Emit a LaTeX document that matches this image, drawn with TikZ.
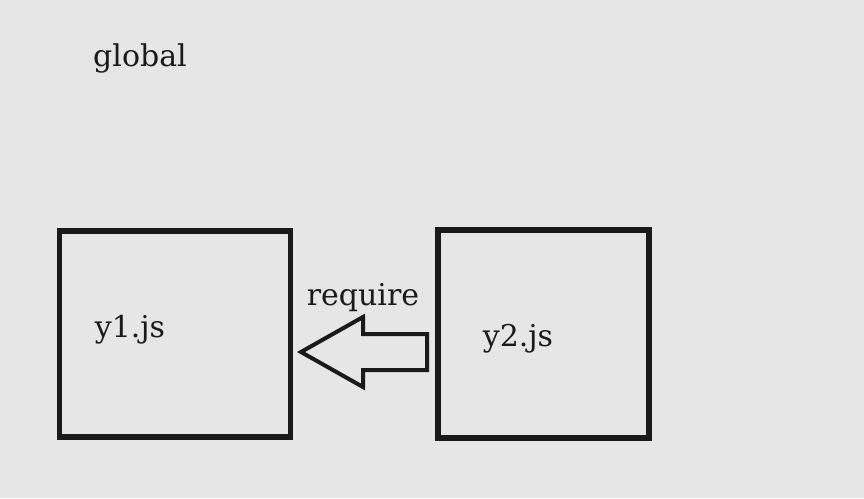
\documentclass[tikz,border=0pt]{standalone}
\usepackage{fontspec}
\setmainfont{DejaVu Serif}
\usepackage{tikz}
\usetikzlibrary{positioning}

\definecolor{fondo}{HTML}{E6E6E6}
\definecolor{trazo}{HTML}{1A1A1A}

\begin{document}
\begin{tikzpicture}[x=1pt, y=-1pt,
    caja/.style={draw=trazo, line width=5.5pt, minimum width=230pt, inner sep=0pt},
    etiqueta/.style={text=trazo, font=\fontsize{30}{34}\selectfont, anchor=base, inner sep=0pt}]
              % Fondo
              \fill[fondo] (0,0) rectangle (864,498);
              \useasboundingbox (0,0) rectangle (864,498);

              % Nodos
              \node[caja, minimum width=231pt, minimum height=206pt] (y1) at (175,334) {};
              \node[caja, minimum width=211pt, minimum height=208pt] (y2) at (543.5,334) {};
              \node[etiqueta] (global) at (140,66) {global};
              \node[etiqueta] (t1) at (130,337) {y1.js};
              \node[etiqueta] (t2) at (518,346) {y2.js};

              % Flecha
              \coordinate (cola) at (427,352);
              \coordinate (punta) at (301,352);
              \node[etiqueta] (req) at (363,305) {require};
              \draw[trazo, line width=4pt, line join=miter]
                (punta) -- ++(62,-35) -- ++(0,17) -- (cola |- 0,334)
                -- (cola |- 0,370) -- (363,370) -- ++(0,17) -- cycle;
            \end{tikzpicture}
\end{document}
